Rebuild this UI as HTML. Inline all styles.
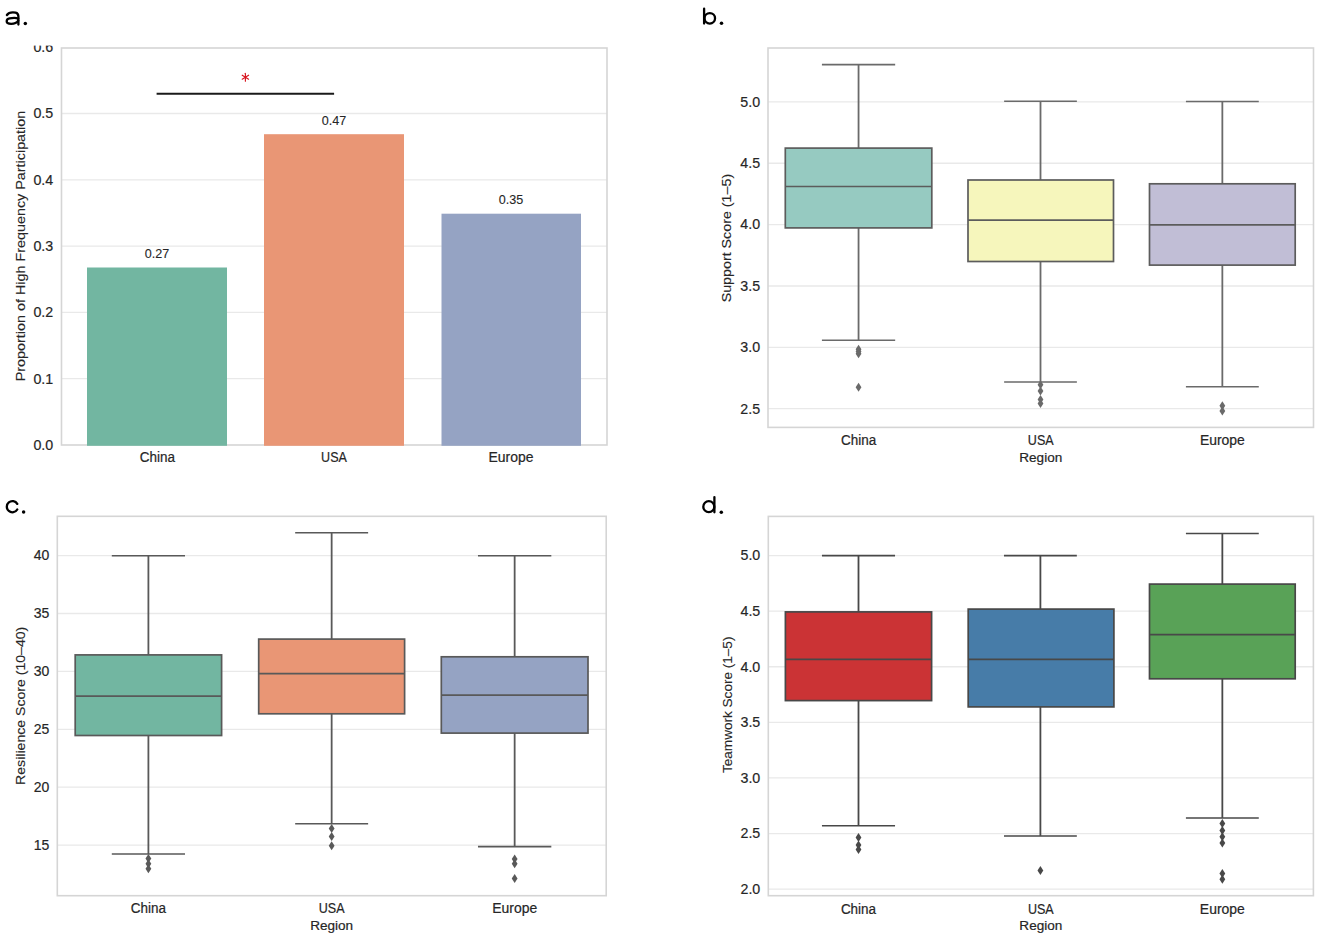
<!DOCTYPE html><html><head><meta charset="utf-8"><style>html,body{margin:0;padding:0;background:#fff;overflow:hidden;}svg{display:block;}</style></head><body>
<svg width="1325" height="942" viewBox="0 0 1325 942" font-family='"Liberation Sans", sans-serif'>
<rect width="1325" height="942" fill="#fff"/>
<line x1="61.5" y1="378.7" x2="607" y2="378.7" stroke="#e9e9e9" stroke-width="1.3"/>
<line x1="61.5" y1="312.4" x2="607" y2="312.4" stroke="#e9e9e9" stroke-width="1.3"/>
<line x1="61.5" y1="246.1" x2="607" y2="246.1" stroke="#e9e9e9" stroke-width="1.3"/>
<line x1="61.5" y1="179.8" x2="607" y2="179.8" stroke="#e9e9e9" stroke-width="1.3"/>
<line x1="61.5" y1="113.5" x2="607" y2="113.5" stroke="#e9e9e9" stroke-width="1.3"/>
<rect x="61.5" y="48" width="545.5" height="397" fill="none" stroke="#d5d5d5" stroke-width="1.6"/>
<rect x="87" y="267.5" width="140" height="178.3" fill="#72b6a1"/>
<rect x="264" y="134.2" width="140" height="311.6" fill="#e99675"/>
<rect x="441.5" y="213.7" width="139.5" height="232.10000000000002" fill="#95a3c3"/>
<text x="157" y="257.5" font-size="12.8" text-anchor="middle" fill="#262626" stroke="#262626" stroke-width="0.1" textLength="24.5" lengthAdjust="spacingAndGlyphs" >0.27</text>
<text x="334" y="124.7" font-size="12.8" text-anchor="middle" fill="#262626" stroke="#262626" stroke-width="0.1" textLength="24.5" lengthAdjust="spacingAndGlyphs" >0.47</text>
<text x="511" y="203.8" font-size="12.8" text-anchor="middle" fill="#262626" stroke="#262626" stroke-width="0.1" textLength="24.5" lengthAdjust="spacingAndGlyphs" >0.35</text>
<line x1="156.6" y1="93.8" x2="334.1" y2="93.8" stroke="#1a1a1a" stroke-width="2"/>
<line x1="245.40" y1="73.20" x2="245.40" y2="81.20" stroke="#d8141e" stroke-width="1.15" stroke-linecap="round"/>
<line x1="242.20" y1="75.20" x2="248.60" y2="79.20" stroke="#d8141e" stroke-width="1.15" stroke-linecap="round"/>
<line x1="248.60" y1="75.20" x2="242.20" y2="79.20" stroke="#d8141e" stroke-width="1.15" stroke-linecap="round"/>
<text x="53.2" y="449.8" font-size="14" text-anchor="end" fill="#262626" stroke="#262626" stroke-width="0.18" textLength="19.8" lengthAdjust="spacingAndGlyphs" >0.0</text>
<text x="53.2" y="383.5" font-size="14" text-anchor="end" fill="#262626" stroke="#262626" stroke-width="0.18" textLength="19.8" lengthAdjust="spacingAndGlyphs" >0.1</text>
<text x="53.2" y="317.2" font-size="14" text-anchor="end" fill="#262626" stroke="#262626" stroke-width="0.18" textLength="19.8" lengthAdjust="spacingAndGlyphs" >0.2</text>
<text x="53.2" y="250.9" font-size="14" text-anchor="end" fill="#262626" stroke="#262626" stroke-width="0.18" textLength="19.8" lengthAdjust="spacingAndGlyphs" >0.3</text>
<text x="53.2" y="184.60000000000002" font-size="14" text-anchor="end" fill="#262626" stroke="#262626" stroke-width="0.18" textLength="19.8" lengthAdjust="spacingAndGlyphs" >0.4</text>
<text x="53.2" y="118.3" font-size="14" text-anchor="end" fill="#262626" stroke="#262626" stroke-width="0.18" textLength="19.8" lengthAdjust="spacingAndGlyphs" >0.5</text>
<text x="53.2" y="51.999999999999986" font-size="14" text-anchor="end" fill="#262626" stroke="#262626" stroke-width="0.18" textLength="19.8" lengthAdjust="spacingAndGlyphs" >0.6</text>
<rect x="25" y="30" width="34" height="15.6" fill="#fff"/>
<text x="157.3" y="462" font-size="14" text-anchor="middle" fill="#262626" stroke="#262626" stroke-width="0.2" textLength="35.2" lengthAdjust="spacingAndGlyphs" >China</text>
<text x="334" y="462" font-size="14" text-anchor="middle" fill="#262626" stroke="#262626" stroke-width="0.2" textLength="25.8" lengthAdjust="spacingAndGlyphs" >USA</text>
<text x="511" y="462" font-size="14" text-anchor="middle" fill="#262626" stroke="#262626" stroke-width="0.2" textLength="45" lengthAdjust="spacingAndGlyphs" >Europe</text>
<text transform="translate(25.2,246) rotate(-90)" x="0" y="0" font-size="13" text-anchor="middle" fill="#262626" stroke="#262626" stroke-width="0.12" textLength="270.5" lengthAdjust="spacingAndGlyphs">Proportion of High Frequency Participation</text>
<path d="M6.9 15.0 C8.6 12.4, 13 12.2, 15.6 12.6 C17.6 13.0, 18.4 14.6, 18.4 16.6 L18.4 24.6" fill="none" stroke="#000" stroke-width="2.3" stroke-linecap="round"/>
<path d="M18.2 18.6 C16.5 17.9, 12.5 17.9, 9.6 18.4 C7.2 18.8, 6.7 20.2, 6.7 21.3 C6.7 23.2, 8.8 23.9, 11.2 23.9 C14.6 23.9, 17.0 22.6, 18.3 20.6" fill="none" stroke="#000" stroke-width="2.3" stroke-linecap="round"/>
<circle cx="25.3" cy="23.5" r="1.75" fill="#000"/>
<line x1="768" y1="408.70000000000005" x2="1313.5" y2="408.70000000000005" stroke="#e9e9e9" stroke-width="1.3"/>
<line x1="768" y1="347.34000000000003" x2="1313.5" y2="347.34000000000003" stroke="#e9e9e9" stroke-width="1.3"/>
<line x1="768" y1="285.98" x2="1313.5" y2="285.98" stroke="#e9e9e9" stroke-width="1.3"/>
<line x1="768" y1="224.62" x2="1313.5" y2="224.62" stroke="#e9e9e9" stroke-width="1.3"/>
<line x1="768" y1="163.26" x2="1313.5" y2="163.26" stroke="#e9e9e9" stroke-width="1.3"/>
<line x1="768" y1="101.9" x2="1313.5" y2="101.9" stroke="#e9e9e9" stroke-width="1.3"/>
<rect x="768" y="48" width="545.5" height="379.4" fill="none" stroke="#d5d5d5" stroke-width="1.6"/>
<line x1="858.55" y1="64.6" x2="858.55" y2="148.1" stroke="#6a6a6a" stroke-width="1.8"/>
<line x1="858.55" y1="227.9" x2="858.55" y2="340.2" stroke="#6a6a6a" stroke-width="1.8"/>
<line x1="821.925" y1="64.6" x2="895.175" y2="64.6" stroke="#6a6a6a" stroke-width="1.55"/>
<line x1="821.925" y1="340.2" x2="895.175" y2="340.2" stroke="#6a6a6a" stroke-width="1.55"/>
<rect x="785.3" y="148.1" width="146.5" height="79.80000000000001" fill="#96cac1" stroke="#5c5c5c" stroke-width="1.7"/>
<line x1="785.3" y1="186.5" x2="931.8" y2="186.5" stroke="#5c5c5c" stroke-width="1.7"/>
<path d="M858.55 344.8 L861.4499999999999 349.3 L858.55 353.8 L855.65 349.3 Z" fill="#6a6a6a"/>
<path d="M858.55 347.0 L861.4499999999999 351.5 L858.55 356.0 L855.65 351.5 Z" fill="#6a6a6a"/>
<path d="M858.55 349.3 L861.4499999999999 353.8 L858.55 358.3 L855.65 353.8 Z" fill="#6a6a6a"/>
<path d="M858.55 382.7 L861.4499999999999 387.2 L858.55 391.7 L855.65 387.2 Z" fill="#6a6a6a"/>
<line x1="1040.5" y1="101.2" x2="1040.5" y2="180" stroke="#6a6a6a" stroke-width="1.8"/>
<line x1="1040.5" y1="261.5" x2="1040.5" y2="381.9" stroke="#6a6a6a" stroke-width="1.8"/>
<line x1="1004.125" y1="101.2" x2="1076.875" y2="101.2" stroke="#6a6a6a" stroke-width="1.55"/>
<line x1="1004.125" y1="381.9" x2="1076.875" y2="381.9" stroke="#6a6a6a" stroke-width="1.55"/>
<rect x="968" y="180" width="145.5" height="81.5" fill="#f6f6bc" stroke="#5c5c5c" stroke-width="1.7"/>
<line x1="968" y1="220.1" x2="1113.5" y2="220.1" stroke="#5c5c5c" stroke-width="1.7"/>
<path d="M1040.5 380.2 L1043.4 384.7 L1040.5 389.2 L1037.6 384.7 Z" fill="#6a6a6a"/>
<path d="M1040.5 386.6 L1043.4 391.1 L1040.5 395.6 L1037.6 391.1 Z" fill="#6a6a6a"/>
<path d="M1040.5 394.9 L1043.4 399.4 L1040.5 403.9 L1037.6 399.4 Z" fill="#6a6a6a"/>
<path d="M1040.5 399.1 L1043.4 403.6 L1040.5 408.1 L1037.6 403.6 Z" fill="#6a6a6a"/>
<line x1="1222.35" y1="101.4" x2="1222.35" y2="183.8" stroke="#6a6a6a" stroke-width="1.8"/>
<line x1="1222.35" y1="265.1" x2="1222.35" y2="386.8" stroke="#6a6a6a" stroke-width="1.8"/>
<line x1="1185.925" y1="101.4" x2="1258.7749999999999" y2="101.4" stroke="#6a6a6a" stroke-width="1.55"/>
<line x1="1185.925" y1="386.8" x2="1258.7749999999999" y2="386.8" stroke="#6a6a6a" stroke-width="1.55"/>
<rect x="1149.5" y="183.8" width="145.70000000000005" height="81.30000000000001" fill="#c1bed6" stroke="#5c5c5c" stroke-width="1.7"/>
<line x1="1149.5" y1="224.8" x2="1295.2" y2="224.8" stroke="#5c5c5c" stroke-width="1.7"/>
<path d="M1222.35 401.2 L1225.25 405.7 L1222.35 410.2 L1219.4499999999998 405.7 Z" fill="#6a6a6a"/>
<path d="M1222.35 406.4 L1225.25 410.9 L1222.35 415.4 L1219.4499999999998 410.9 Z" fill="#6a6a6a"/>
<text x="760.1" y="413.50000000000006" font-size="14" text-anchor="end" fill="#262626" stroke="#262626" stroke-width="0.18" textLength="19.8" lengthAdjust="spacingAndGlyphs" >2.5</text>
<text x="760.1" y="352.14000000000004" font-size="14" text-anchor="end" fill="#262626" stroke="#262626" stroke-width="0.18" textLength="19.8" lengthAdjust="spacingAndGlyphs" >3.0</text>
<text x="760.1" y="290.78000000000003" font-size="14" text-anchor="end" fill="#262626" stroke="#262626" stroke-width="0.18" textLength="19.8" lengthAdjust="spacingAndGlyphs" >3.5</text>
<text x="760.1" y="229.42000000000002" font-size="14" text-anchor="end" fill="#262626" stroke="#262626" stroke-width="0.18" textLength="19.8" lengthAdjust="spacingAndGlyphs" >4.0</text>
<text x="760.1" y="168.06" font-size="14" text-anchor="end" fill="#262626" stroke="#262626" stroke-width="0.18" textLength="19.8" lengthAdjust="spacingAndGlyphs" >4.5</text>
<text x="760.1" y="106.7" font-size="14" text-anchor="end" fill="#262626" stroke="#262626" stroke-width="0.18" textLength="19.8" lengthAdjust="spacingAndGlyphs" >5.0</text>
<text x="858.6" y="444.9" font-size="14" text-anchor="middle" fill="#262626" stroke="#262626" stroke-width="0.2" textLength="35.2" lengthAdjust="spacingAndGlyphs" >China</text>
<text x="1040.75" y="444.9" font-size="14" text-anchor="middle" fill="#262626" stroke="#262626" stroke-width="0.2" textLength="25.8" lengthAdjust="spacingAndGlyphs" >USA</text>
<text x="1222.4" y="444.9" font-size="14" text-anchor="middle" fill="#262626" stroke="#262626" stroke-width="0.2" textLength="45" lengthAdjust="spacingAndGlyphs" >Europe</text>
<text x="1040.75" y="461.8" font-size="13.6" text-anchor="middle" fill="#262626" stroke="#262626" stroke-width="0.2" textLength="43" lengthAdjust="spacingAndGlyphs" >Region</text>
<text transform="translate(731.3,238.1) rotate(-90)" x="0" y="0" font-size="13" text-anchor="middle" fill="#262626" stroke="#262626" stroke-width="0.12" textLength="128.5" lengthAdjust="spacingAndGlyphs">Support Score (1–5)</text>
<line x1="704.1" y1="8.7" x2="704.1" y2="23.6" stroke="#000" stroke-width="2.3" stroke-linecap="round"/>
<circle cx="709.8" cy="18.3" r="5.25" fill="none" stroke="#000" stroke-width="2.3"/>
<circle cx="721.5" cy="23.2" r="1.75" fill="#000"/>
<line x1="57.3" y1="845.1" x2="606.2" y2="845.1" stroke="#e9e9e9" stroke-width="1.3"/>
<line x1="57.3" y1="787.2" x2="606.2" y2="787.2" stroke="#e9e9e9" stroke-width="1.3"/>
<line x1="57.3" y1="729.3" x2="606.2" y2="729.3" stroke="#e9e9e9" stroke-width="1.3"/>
<line x1="57.3" y1="671.4" x2="606.2" y2="671.4" stroke="#e9e9e9" stroke-width="1.3"/>
<line x1="57.3" y1="613.5" x2="606.2" y2="613.5" stroke="#e9e9e9" stroke-width="1.3"/>
<line x1="57.3" y1="555.6" x2="606.2" y2="555.6" stroke="#e9e9e9" stroke-width="1.3"/>
<rect x="57.3" y="516.3" width="548.9000000000001" height="379.4000000000001" fill="none" stroke="#d5d5d5" stroke-width="1.6"/>
<line x1="148.4" y1="555.7" x2="148.4" y2="654.9" stroke="#595959" stroke-width="1.8"/>
<line x1="148.4" y1="735.5" x2="148.4" y2="854" stroke="#595959" stroke-width="1.8"/>
<line x1="111.80000000000001" y1="555.7" x2="185.0" y2="555.7" stroke="#595959" stroke-width="1.55"/>
<line x1="111.80000000000001" y1="854" x2="185.0" y2="854" stroke="#595959" stroke-width="1.55"/>
<rect x="75.2" y="654.9" width="146.39999999999998" height="80.60000000000002" fill="#72b6a1" stroke="#595959" stroke-width="1.7"/>
<line x1="75.2" y1="696.2" x2="221.6" y2="696.2" stroke="#595959" stroke-width="1.7"/>
<path d="M148.4 854.1 L151.3 858.6 L148.4 863.1 L145.5 858.6 Z" fill="#595959"/>
<path d="M148.4 859.2 L151.3 863.7 L148.4 868.2 L145.5 863.7 Z" fill="#595959"/>
<path d="M148.4 864.3 L151.3 868.8 L148.4 873.3 L145.5 868.8 Z" fill="#595959"/>
<line x1="331.65" y1="532.8" x2="331.65" y2="639.1" stroke="#595959" stroke-width="1.8"/>
<line x1="331.65" y1="713.8" x2="331.65" y2="823.8" stroke="#595959" stroke-width="1.8"/>
<line x1="295.17499999999995" y1="532.8" x2="368.125" y2="532.8" stroke="#595959" stroke-width="1.55"/>
<line x1="295.17499999999995" y1="823.8" x2="368.125" y2="823.8" stroke="#595959" stroke-width="1.55"/>
<rect x="258.7" y="639.1" width="145.90000000000003" height="74.69999999999993" fill="#e99675" stroke="#595959" stroke-width="1.7"/>
<line x1="258.7" y1="673.6" x2="404.6" y2="673.6" stroke="#595959" stroke-width="1.7"/>
<path d="M331.65 823.9 L334.54999999999995 828.4 L331.65 832.9 L328.75 828.4 Z" fill="#595959"/>
<path d="M331.65 832.0 L334.54999999999995 836.5 L331.65 841.0 L328.75 836.5 Z" fill="#595959"/>
<path d="M331.65 841.3 L334.54999999999995 845.8 L331.65 850.3 L328.75 845.8 Z" fill="#595959"/>
<line x1="514.65" y1="555.7" x2="514.65" y2="656.8" stroke="#595959" stroke-width="1.8"/>
<line x1="514.65" y1="733.1" x2="514.65" y2="846.6" stroke="#595959" stroke-width="1.8"/>
<line x1="477.97499999999997" y1="555.7" x2="551.3249999999999" y2="555.7" stroke="#595959" stroke-width="1.55"/>
<line x1="477.97499999999997" y1="846.6" x2="551.3249999999999" y2="846.6" stroke="#595959" stroke-width="1.55"/>
<rect x="441.3" y="656.8" width="146.7" height="76.30000000000007" fill="#95a3c3" stroke="#595959" stroke-width="1.7"/>
<line x1="441.3" y1="695.1" x2="588" y2="695.1" stroke="#595959" stroke-width="1.7"/>
<path d="M514.65 854.4 L517.55 858.9 L514.65 863.4 L511.75 858.9 Z" fill="#595959"/>
<path d="M514.65 859.2 L517.55 863.7 L514.65 868.2 L511.75 863.7 Z" fill="#595959"/>
<path d="M514.65 873.9 L517.55 878.4 L514.65 882.9 L511.75 878.4 Z" fill="#595959"/>
<text x="49.3" y="849.9" font-size="14" text-anchor="end" fill="#262626" stroke="#262626" stroke-width="0.18" textLength="15.6" lengthAdjust="spacingAndGlyphs" >15</text>
<text x="49.3" y="792.0" font-size="14" text-anchor="end" fill="#262626" stroke="#262626" stroke-width="0.18" textLength="15.6" lengthAdjust="spacingAndGlyphs" >20</text>
<text x="49.3" y="734.0999999999999" font-size="14" text-anchor="end" fill="#262626" stroke="#262626" stroke-width="0.18" textLength="15.6" lengthAdjust="spacingAndGlyphs" >25</text>
<text x="49.3" y="676.1999999999999" font-size="14" text-anchor="end" fill="#262626" stroke="#262626" stroke-width="0.18" textLength="15.6" lengthAdjust="spacingAndGlyphs" >30</text>
<text x="49.3" y="618.3" font-size="14" text-anchor="end" fill="#262626" stroke="#262626" stroke-width="0.18" textLength="15.6" lengthAdjust="spacingAndGlyphs" >35</text>
<text x="49.3" y="560.4" font-size="14" text-anchor="end" fill="#262626" stroke="#262626" stroke-width="0.18" textLength="15.6" lengthAdjust="spacingAndGlyphs" >40</text>
<text x="148.4" y="913.4" font-size="14" text-anchor="middle" fill="#262626" stroke="#262626" stroke-width="0.2" textLength="35.2" lengthAdjust="spacingAndGlyphs" >China</text>
<text x="331.65" y="913.4" font-size="14" text-anchor="middle" fill="#262626" stroke="#262626" stroke-width="0.2" textLength="25.8" lengthAdjust="spacingAndGlyphs" >USA</text>
<text x="514.7" y="913.4" font-size="14" text-anchor="middle" fill="#262626" stroke="#262626" stroke-width="0.2" textLength="45" lengthAdjust="spacingAndGlyphs" >Europe</text>
<text x="331.65" y="929.7" font-size="13.6" text-anchor="middle" fill="#262626" stroke="#262626" stroke-width="0.2" textLength="43" lengthAdjust="spacingAndGlyphs" >Region</text>
<text transform="translate(24.8,705.8) rotate(-90)" x="0" y="0" font-size="13" text-anchor="middle" fill="#262626" stroke="#262626" stroke-width="0.12" textLength="158.2" lengthAdjust="spacingAndGlyphs">Resilience Score (10–40)</text>
<path d="M17.25 503.9 A5.6 5.6 0 1 0 17.25 509.5" fill="none" stroke="#000" stroke-width="2.3" stroke-linecap="round"/>
<circle cx="23.6" cy="512.0" r="1.75" fill="#000"/>
<line x1="768.3" y1="889.11" x2="1313.4" y2="889.11" stroke="#e9e9e9" stroke-width="1.3"/>
<line x1="768.3" y1="833.5250000000001" x2="1313.4" y2="833.5250000000001" stroke="#e9e9e9" stroke-width="1.3"/>
<line x1="768.3" y1="777.94" x2="1313.4" y2="777.94" stroke="#e9e9e9" stroke-width="1.3"/>
<line x1="768.3" y1="722.355" x2="1313.4" y2="722.355" stroke="#e9e9e9" stroke-width="1.3"/>
<line x1="768.3" y1="666.77" x2="1313.4" y2="666.77" stroke="#e9e9e9" stroke-width="1.3"/>
<line x1="768.3" y1="611.1850000000001" x2="1313.4" y2="611.1850000000001" stroke="#e9e9e9" stroke-width="1.3"/>
<line x1="768.3" y1="555.6" x2="1313.4" y2="555.6" stroke="#e9e9e9" stroke-width="1.3"/>
<rect x="768.3" y="516.4" width="545.1000000000001" height="379.30000000000007" fill="none" stroke="#d5d5d5" stroke-width="1.6"/>
<line x1="858.5" y1="555.6" x2="858.5" y2="611.9" stroke="#484848" stroke-width="1.8"/>
<line x1="858.5" y1="700.6" x2="858.5" y2="825.8" stroke="#484848" stroke-width="1.8"/>
<line x1="821.95" y1="555.6" x2="895.05" y2="555.6" stroke="#484848" stroke-width="1.55"/>
<line x1="821.95" y1="825.8" x2="895.05" y2="825.8" stroke="#484848" stroke-width="1.55"/>
<rect x="785.4" y="611.9" width="146.20000000000005" height="88.70000000000005" fill="#cb3335" stroke="#484848" stroke-width="1.7"/>
<line x1="785.4" y1="659.3" x2="931.6" y2="659.3" stroke="#484848" stroke-width="1.7"/>
<path d="M858.5 832.9 L861.4 837.4 L858.5 841.9 L855.6 837.4 Z" fill="#484848"/>
<path d="M858.5 840.4 L861.4 844.9 L858.5 849.4 L855.6 844.9 Z" fill="#484848"/>
<path d="M858.5 844.9 L861.4 849.4 L858.5 853.9 L855.6 849.4 Z" fill="#484848"/>
<line x1="1040.4" y1="555.6" x2="1040.4" y2="609.1" stroke="#484848" stroke-width="1.8"/>
<line x1="1040.4" y1="706.9" x2="1040.4" y2="835.9" stroke="#484848" stroke-width="1.8"/>
<line x1="1003.9750000000001" y1="555.6" x2="1076.825" y2="555.6" stroke="#484848" stroke-width="1.55"/>
<line x1="1003.9750000000001" y1="835.9" x2="1076.825" y2="835.9" stroke="#484848" stroke-width="1.55"/>
<rect x="968.2" y="609.1" width="145.70000000000005" height="97.79999999999995" fill="#477ca8" stroke="#484848" stroke-width="1.7"/>
<line x1="968.2" y1="659.3" x2="1113.9" y2="659.3" stroke="#484848" stroke-width="1.7"/>
<path d="M1040.4 865.9 L1043.3000000000002 870.4 L1040.4 874.9 L1037.5 870.4 Z" fill="#484848"/>
<line x1="1222.35" y1="533.4" x2="1222.35" y2="584.1" stroke="#484848" stroke-width="1.8"/>
<line x1="1222.35" y1="678.8" x2="1222.35" y2="817.9" stroke="#484848" stroke-width="1.8"/>
<line x1="1185.925" y1="533.4" x2="1258.7749999999999" y2="533.4" stroke="#484848" stroke-width="1.55"/>
<line x1="1185.925" y1="817.9" x2="1258.7749999999999" y2="817.9" stroke="#484848" stroke-width="1.55"/>
<rect x="1149.5" y="584.1" width="145.70000000000005" height="94.69999999999993" fill="#59a257" stroke="#484848" stroke-width="1.7"/>
<line x1="1149.5" y1="634.6" x2="1295.2" y2="634.6" stroke="#484848" stroke-width="1.7"/>
<path d="M1222.35 818.9 L1225.25 823.4 L1222.35 827.9 L1219.4499999999998 823.4 Z" fill="#484848"/>
<path d="M1222.35 825.9 L1225.25 830.4 L1222.35 834.9 L1219.4499999999998 830.4 Z" fill="#484848"/>
<path d="M1222.35 832.3 L1225.25 836.8 L1222.35 841.3 L1219.4499999999998 836.8 Z" fill="#484848"/>
<path d="M1222.35 838.5 L1225.25 843 L1222.35 847.5 L1219.4499999999998 843 Z" fill="#484848"/>
<path d="M1222.35 869.0 L1225.25 873.5 L1222.35 878.0 L1219.4499999999998 873.5 Z" fill="#484848"/>
<path d="M1222.35 874.8 L1225.25 879.3 L1222.35 883.8 L1219.4499999999998 879.3 Z" fill="#484848"/>
<text x="760.3" y="893.91" font-size="14" text-anchor="end" fill="#262626" stroke="#262626" stroke-width="0.18" textLength="19.8" lengthAdjust="spacingAndGlyphs" >2.0</text>
<text x="760.3" y="838.325" font-size="14" text-anchor="end" fill="#262626" stroke="#262626" stroke-width="0.18" textLength="19.8" lengthAdjust="spacingAndGlyphs" >2.5</text>
<text x="760.3" y="782.74" font-size="14" text-anchor="end" fill="#262626" stroke="#262626" stroke-width="0.18" textLength="19.8" lengthAdjust="spacingAndGlyphs" >3.0</text>
<text x="760.3" y="727.155" font-size="14" text-anchor="end" fill="#262626" stroke="#262626" stroke-width="0.18" textLength="19.8" lengthAdjust="spacingAndGlyphs" >3.5</text>
<text x="760.3" y="671.5699999999999" font-size="14" text-anchor="end" fill="#262626" stroke="#262626" stroke-width="0.18" textLength="19.8" lengthAdjust="spacingAndGlyphs" >4.0</text>
<text x="760.3" y="615.985" font-size="14" text-anchor="end" fill="#262626" stroke="#262626" stroke-width="0.18" textLength="19.8" lengthAdjust="spacingAndGlyphs" >4.5</text>
<text x="760.3" y="560.4" font-size="14" text-anchor="end" fill="#262626" stroke="#262626" stroke-width="0.18" textLength="19.8" lengthAdjust="spacingAndGlyphs" >5.0</text>
<text x="858.5" y="913.6" font-size="14" text-anchor="middle" fill="#262626" stroke="#262626" stroke-width="0.2" textLength="35.2" lengthAdjust="spacingAndGlyphs" >China</text>
<text x="1040.85" y="913.6" font-size="14" text-anchor="middle" fill="#262626" stroke="#262626" stroke-width="0.2" textLength="25.8" lengthAdjust="spacingAndGlyphs" >USA</text>
<text x="1222.35" y="913.6" font-size="14" text-anchor="middle" fill="#262626" stroke="#262626" stroke-width="0.2" textLength="45" lengthAdjust="spacingAndGlyphs" >Europe</text>
<text x="1040.85" y="930" font-size="13.6" text-anchor="middle" fill="#262626" stroke="#262626" stroke-width="0.2" textLength="43" lengthAdjust="spacingAndGlyphs" >Region</text>
<text transform="translate(731.8,704.8) rotate(-90)" x="0" y="0" font-size="13" text-anchor="middle" fill="#262626" stroke="#262626" stroke-width="0.12" textLength="136.5" lengthAdjust="spacingAndGlyphs">Teamwork Score (1–5)</text>
<circle cx="708.8" cy="506.65" r="5.5" fill="none" stroke="#000" stroke-width="2.3"/>
<line x1="714.4" y1="497.1" x2="714.4" y2="512.3" stroke="#000" stroke-width="2.3" stroke-linecap="round"/>
<circle cx="721.3" cy="512.2" r="1.75" fill="#000"/>
</svg></body></html>
